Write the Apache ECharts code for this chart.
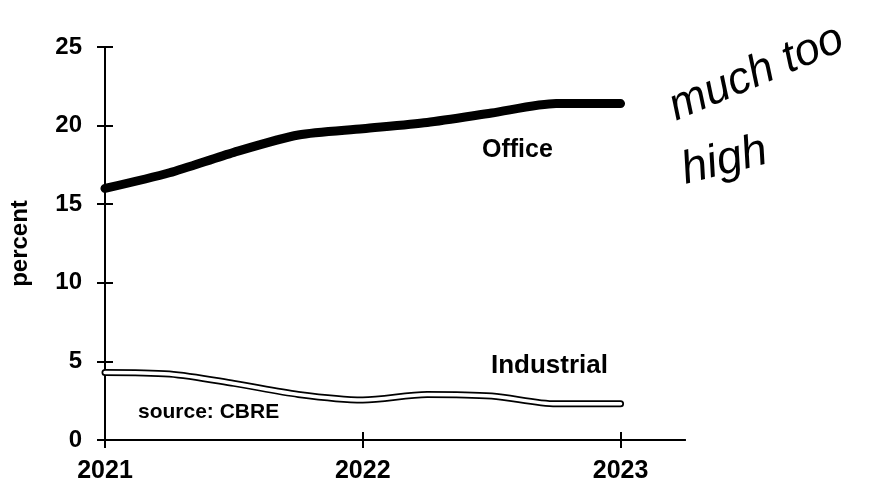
<!DOCTYPE html>
<html><head><meta charset="utf-8">
<script src="https://cdn.jsdelivr.net/npm/echarts@6/dist/echarts.min.js"></script>
<style>html,body{margin:0;padding:0;background:#fff}#c{width:888px;height:484px}</style>
</head><body><div id="c"></div>
<script>
const quarters = [2021, 2021.25, 2021.5, 2021.75, 2022, 2022.25, 2022.5, 2022.75, 2023];
const office = [16.0, 17.0, 18.3, 19.4, 19.8, 20.2, 20.8, 21.4, 21.4];
const industrial = [4.3, 4.2, 3.6, 2.9, 2.55, 2.9, 2.8, 2.3, 2.3];
const xTicks = [2021, 2022, 2023];
const yTicks = [0, 5, 10, 15, 20, 25];

const F = 'Liberation Sans, Arial, sans-serif';
const pair = (vals) => quarters.map((q, i) => [q, vals[i]]);
const chart = echarts.init(document.getElementById('c'), null, {renderer: 'canvas'});
const xBase = {
  type: 'value', min: 2021, max: 2023.25, interval: 1,
  splitLine: {show: false},
  axisLine: {show: true, onZero: false, lineStyle: {color: '#000', width: 2}},
};
const yBase = {
  type: 'value', min: 0, max: 25, interval: 5,
  splitLine: {show: false},
  axisLine: {show: true, onZero: false, lineStyle: {color: '#000', width: 2}},
};
chart.setOption({
  animation: false,
  grid: {left: 104, right: 203, top: 47, bottom: 44, containLabel: false},
  xAxis: [
    Object.assign({}, xBase, {
      axisTick: {show: true, length: 8, customValues: xTicks, lineStyle: {color: '#000', width: 2}},
      axisLabel: {customValues: xTicks, color: '#000', fontFamily: F, fontWeight: 'bold', fontSize: 25, margin: 19,
        formatter: v => String(Math.round(v))}
    }),
    Object.assign({}, xBase, {
      position: 'bottom',
      axisTick: {show: true, inside: true, length: 8, customValues: xTicks, lineStyle: {color: '#000', width: 2}},
      axisLabel: {show: false}
    })
  ],
  yAxis: [
    Object.assign({}, yBase, {
      name: 'percent', nameLocation: 'middle', nameGap: 73, nameRotate: 90,
      nameTextStyle: {color: '#000', fontFamily: F, fontWeight: 'bold', fontSize: 24},
      axisTick: {show: true, length: 8, lineStyle: {color: '#000', width: 2}},
      axisLabel: {customValues: yTicks, color: '#000', fontFamily: F, fontWeight: 'bold', fontSize: 24, margin: 23}
    }),
    Object.assign({}, yBase, {
      position: 'left',
      axisTick: {show: true, inside: true, length: 8, lineStyle: {color: '#000', width: 2}},
      axisLabel: {show: false}
    })
  ],
  series: [
    {type: 'line', data: pair(office), smooth: 0.25, symbol: 'none',
      lineStyle: {color: '#000', width: 9, cap: 'round', join: 'round'}},
    {type: 'line', data: pair(industrial), smooth: 0.3, symbol: 'none',
      lineStyle: {color: '#000', width: 7, cap: 'round', join: 'round'}},
    {type: 'line', data: pair(industrial), smooth: 0.3, symbol: 'none',
      lineStyle: {color: '#fff', width: 3.5, cap: 'round', join: 'round'}}
  ],
  graphic: [
    {type: 'text', left: 482, top: 138, style: {text: 'Office', fill: '#000', font: 'bold 25px ' + F}},
    {type: 'text', left: 491, top: 353, style: {text: 'Industrial', fill: '#000', font: 'bold 26px ' + F}},
    {type: 'text', left: 138, top: 402, style: {text: 'source: CBRE', fill: '#000', font: 'bold 21px ' + F}},
    {type: 'text', x: 680, y: 130, rotation: 0.40, style: {text: 'much too', fill: '#000', font: 'italic 45px ' + F, textVerticalAlign: 'bottom'}},
    {type: 'text', x: 688, y: 194, rotation: 0.25, style: {text: 'high', fill: '#000', font: 'italic 46px ' + F, textVerticalAlign: 'bottom'}}
  ]
});
</script></body></html>
